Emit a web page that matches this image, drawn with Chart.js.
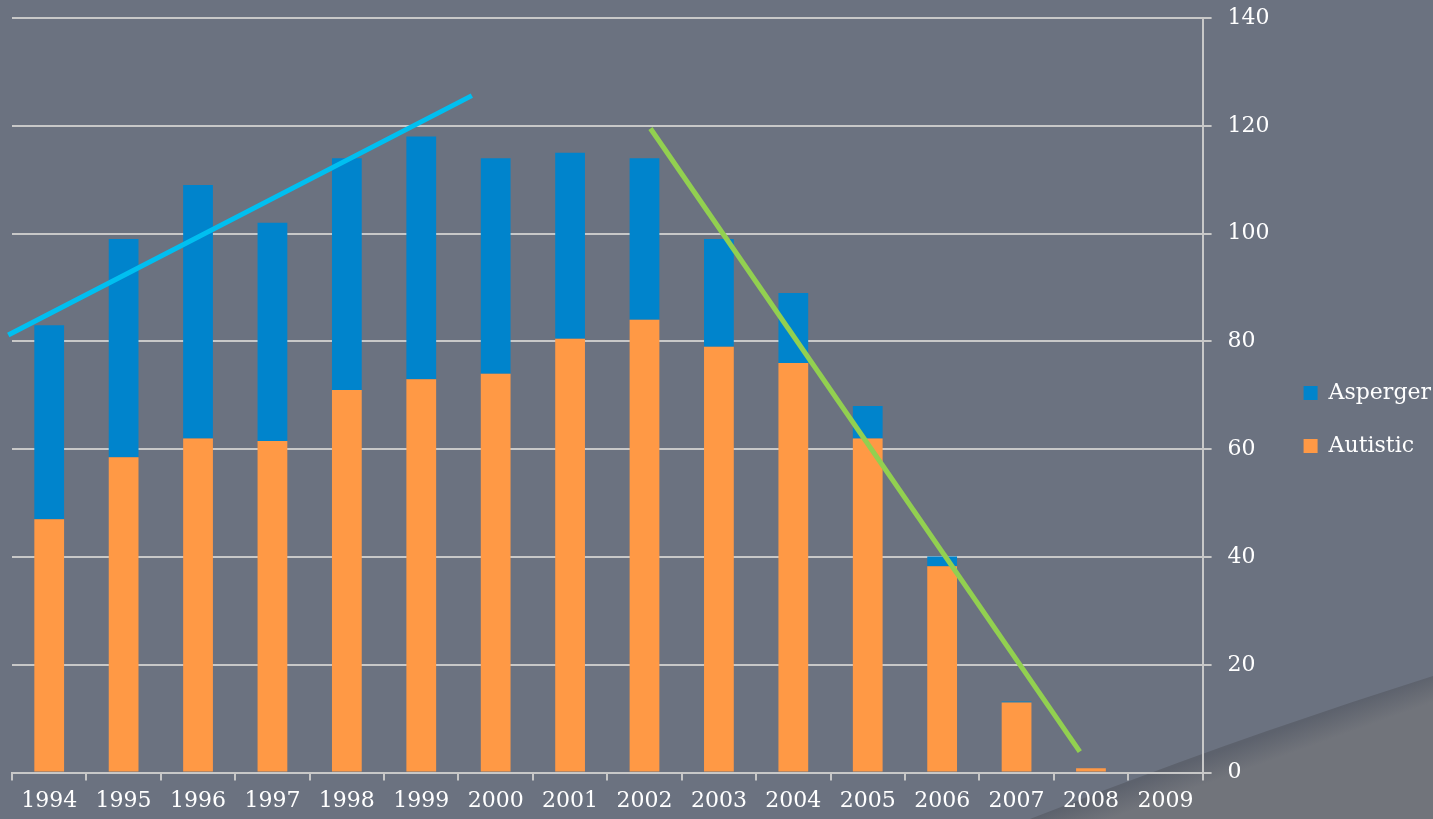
<!DOCTYPE html>
<html>
<head>
<meta charset="utf-8">
<script src="https://cdn.jsdelivr.net/npm/chart.js@4/dist/chart.umd.min.js"></script>
<style>
  html, body { margin: 0; padding: 0; background: #6b7280; overflow: hidden; }
  #wrap { position: relative; width: 1433px; height: 819px; }
  #swoosh { position: absolute; left: 0; top: 0; }
  #myChart { position: absolute; left: 0; top: 0; }
</style>
</head>
<body>
<div id="wrap">
  <!-- theme decoration in the bottom right corner -->
  <svg id="swoosh" width="1433" height="819">
    <defs>
      <linearGradient id="sh" gradientUnits="userSpaceOnUse" x1="1236" y1="745" x2="1245" y2="770">
        <stop offset="0" stop-color="#5d626d"/>
        <stop offset="1" stop-color="#71747b"/>
      </linearGradient>
    </defs>
    <path d="M1030 819 Q1230 740 1433 676 L1433 819 Z" fill="url(#sh)"/>
  </svg>
  <canvas id="myChart" width="1433" height="819"></canvas>
</div>
<script>
// data
var years = ["1994","1995","1996","1997","1998","1999","2000","2001","2002","2003","2004","2005","2006","2007","2008","2009"];
var autistic = [47, 58.5, 62, 61.5, 71, 73, 74, 80.5, 84, 79, 76, 62, 38.3, 13, 0.8, 0];
var asperger = [36, 40.5, 47, 40.5, 43, 45, 40, 34.5, 30, 20, 13, 6, 1.8, 0.2, 0, 0];
var yTicks = [0, 20, 40, 60, 80, 100, 120, 140];
// trend lines (x = category index)
var riseTrend = [{x: -0.55, y: 81.2}, {x: 5.68, y: 125.6}];
var fallTrend = [{x: 8.08, y: 119.5}, {x: 13.85, y: 3.9}];

Chart.defaults.font.family = "'DejaVu Serif', serif";
Chart.defaults.color = "#ffffff";

new Chart("myChart", {
  type: "bar",
  data: {
    labels: years,
    datasets: [
      {
        label: "Autistic",
        data: autistic,
        backgroundColor: "#ff9945",
        xAxisID: "x",
        grouped: false,
        order: 1,
        categoryPercentage: 1,
        barPercentage: 0.4
      },
      {
        label: "Asperger",
        data: asperger,
        backgroundColor: "#0084cc",
        xAxisID: "x",
        grouped: false,
        order: 1,
        categoryPercentage: 1,
        barPercentage: 0.4
      },
      {
        type: "line",
        label: "rise",
        data: riseTrend,
        xAxisID: "xl",
        stack: "t1",
        order: 0,
        borderColor: "#00bff0",
        borderWidth: 5,
        pointRadius: 0,
        clip: false
      },
      {
        type: "line",
        label: "fall",
        data: fallTrend,
        xAxisID: "xl",
        stack: "t2",
        order: 0,
        borderColor: "#92d050",
        borderWidth: 5,
        pointRadius: 0,
        clip: false
      }
    ]
  },
  options: {
    responsive: false,
    animation: false,
    layout: { padding: { left: 12, top: 18, right: -8, bottom: -2 } },
    plugins: {
      tooltip: { enabled: false },
      legend: {
        position: "right",
        reverse: true,
        labels: {
          filter: function (item) { return item.text === "Asperger" || item.text === "Autistic"; },
          boxWidth: 14,
          boxHeight: 14,
          padding: 31,
          color: "#ffffff",
          font: { size: 22 }
        }
      }
    },
    scales: {
      x: {
        stacked: true,
        offset: true,
        grid: { drawOnChartArea: false, color: "#c8c8c8", lineWidth: 2, tickLength: 8 },
        border: { color: "#c8c8c8", width: 2 },
        ticks: { color: "#ffffff", font: { size: 22 }, maxRotation: 0, padding: 7 }
      },
      xl: {
        type: "linear",
        display: false,
        offset: false,
        min: -0.5,
        max: 15.5
      },
      y: {
        stacked: true,
        position: "right",
        min: 0,
        max: 140,
        afterBuildTicks: function (s) { s.ticks = yTicks.map(function (v) { return { value: v }; }); },
        afterFit: function (s) { s.width = 70; s.paddingTop = 0; s.paddingBottom = 0; },
        grid: { color: "#c8c8c8", lineWidth: 2, tickLength: 9 },
        border: { color: "#c8c8c8", width: 2 },
        ticks: { color: "#ffffff", font: { size: 22 }, padding: 16 }
      }
    }
  }
});
</script>
</body>
</html>
